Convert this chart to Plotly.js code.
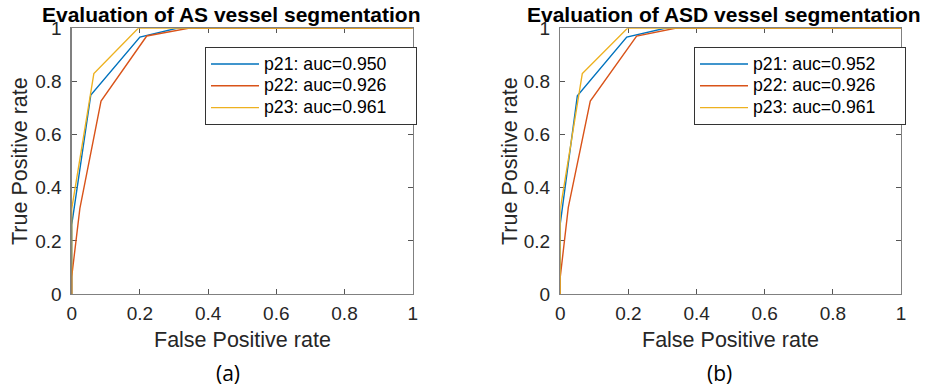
<!DOCTYPE html>
<html><head><meta charset="utf-8">
<script src="https://cdn.plot.ly/plotly-3.0.1.min.js"></script>
<style>html,body{margin:0;padding:0;background:#fff}#chart{width:939px;height:387px}</style>
</head><body><div id="chart"></div>
<script>
// Panel (a): AS vessel segmentation
const as_p21_fpr = [0, 0, 0.056, 0.2, 0.308, 1];
const as_p21_tpr = [0, 0.26, 0.749, 0.967, 1, 1];
const as_p22_fpr = [0, 0, 0.024, 0.086, 0.22, 0.342, 1];
const as_p22_tpr = [0, 0.065, 0.322, 0.726, 0.971, 1, 1];
const as_p23_fpr = [0, 0, 0.065, 0.195, 1];
const as_p23_tpr = [0, 0.32, 0.83, 1, 1];
// Panel (b): ASD vessel segmentation
const asd_p21_fpr = [0, 0, 0.05, 0.195, 0.307, 1];
const asd_p21_tpr = [0, 0.266, 0.746, 0.967, 1, 1];
const asd_p22_fpr = [0, 0, 0.0235, 0.088, 0.224, 0.337, 1];
const asd_p22_tpr = [0, 0.065, 0.326, 0.726, 0.971, 1, 1];
const asd_p23_fpr = [0, 0, 0.0646, 0.197, 1];
const asd_p23_tpr = [0, 0.32, 0.83, 1, 1];

const names_as = ['p21: auc=0.950', 'p22: auc=0.926', 'p23: auc=0.961'];
const names_asd = ['p21: auc=0.952', 'p22: auc=0.926', 'p23: auc=0.961'];
const tickVals = [0, 0.2, 0.4, 0.6, 0.8, 1];
const tickText = ['0', '0.2', '0.4', '0.6', '0.8', '1'];
const titles = ['Evaluation of AS vessel segmentation', 'Evaluation of ASD vessel segmentation'];
const xLabel = 'False Positive rate';
const yLabel = 'True Positive rate';
const panelLabels = ['(a)', '(b)'];

const colors = ['#0072BD', '#D95319', '#EDB120'];
const FONT = 'Liberation Sans, Arial, Helvetica, sans-serif';
const PAD = '\u00A0\u00A0\u00A0\u00A0';

function tr(x, y, name, i, xa, ya, leg) {
  return {x: x, y: y, name: '<span style="font-size:17.7px">' + name + PAD + '</span>\u00A0',
    type: 'scatter', mode: 'lines',
    line: {color: colors[i], width: 1.4}, xaxis: xa, yaxis: ya, legend: leg};
}
const data = [
  tr(as_p21_fpr, as_p21_tpr, names_as[0], 0, 'x', 'y', 'legend'),
  tr(as_p22_fpr, as_p22_tpr, names_as[1], 1, 'x', 'y', 'legend'),
  tr(as_p23_fpr, as_p23_tpr, names_as[2], 2, 'x', 'y', 'legend'),
  tr(asd_p21_fpr, asd_p21_tpr, names_asd[0], 0, 'x2', 'y2', 'legend2'),
  tr(asd_p22_fpr, asd_p22_tpr, names_asd[1], 1, 'x2', 'y2', 'legend2'),
  tr(asd_p23_fpr, asd_p23_tpr, names_asd[2], 2, 'x2', 'y2', 'legend2')
];

function ax(domain, anchor, standoff) {
  return {domain: domain, anchor: anchor, range: [0, 1], tickvals: tickVals, ticktext: tickText,
    ticks: 'inside', ticklen: 5, tickwidth: 1, tickcolor: '#555', showline: true, linecolor: '#808080',
    linewidth: 1.3, mirror: 'ticks', showgrid: false, zeroline: false, layer: 'below traces',
    ticklabelstandoff: standoff,
    tickfont: {family: FONT, size: 19, color: '#262626'}, fixedrange: true};
}
const W = 939, H = 387;
const px = v => v / W, py = v => (H - v) / H;
const yDom = [py(294), py(28.3)];

function leg(x) {
  return {x: px(x), y: py(47), xanchor: 'left', yanchor: 'top', bgcolor: '#ffffff',
    bordercolor: '#333333', borderwidth: 1, font: {family: FONT, size: 14.5, color: '#000'},
    tracegroupgap: 0, itemwidth: 48};
}
function ann(text, x, y, size, opts) {
  return Object.assign({text: text, x: px(x), y: py(y), xref: 'paper', yref: 'paper',
    showarrow: false, xanchor: 'center', yanchor: 'middle',
    font: {family: FONT, size: size, color: '#262626'}}, opts || {});
}
const layout = {
  width: W, height: H, margin: {l: 0, r: 0, t: 0, b: 0},
  paper_bgcolor: '#fff', plot_bgcolor: '#fff', showlegend: true,
  xaxis: ax([px(71.7), px(412.7)], 'y', 2),
  yaxis: ax(yDom, 'x', 5),
  xaxis2: ax([px(560.3), px(901)], 'y2', 2),
  yaxis2: ax(yDom, 'x2', 5),
  legend: leg(205),
  legend2: leg(694),
  annotations: [
    ann('<b>' + titles[0] + '</b>', 231, 15, 21, {font: {family: FONT, size: 21, color: '#000'}}),
    ann('<b>' + titles[1] + '</b>', 724, 15, 21, {font: {family: FONT, size: 21, color: '#000'}}),
    ann(xLabel, 242.2, 340, 21.5),
    ann(xLabel, 730.6, 340, 21.5),
    ann(yLabel, 20, 161, 21.5, {textangle: -90}),
    ann(yLabel, 510, 161, 21.5, {textangle: -90}),
    ann(panelLabels[0], 228, 373, 21, {font: {family: 'Open Sans, sans-serif', size: 21, color: '#000'}}),
    ann(panelLabels[1], 719, 373, 21, {font: {family: 'Open Sans, sans-serif', size: 21, color: '#000'}})
  ]
};
Plotly.newPlot('chart', data, layout, {staticPlot: true, displayModeBar: false});
</script></body></html>
